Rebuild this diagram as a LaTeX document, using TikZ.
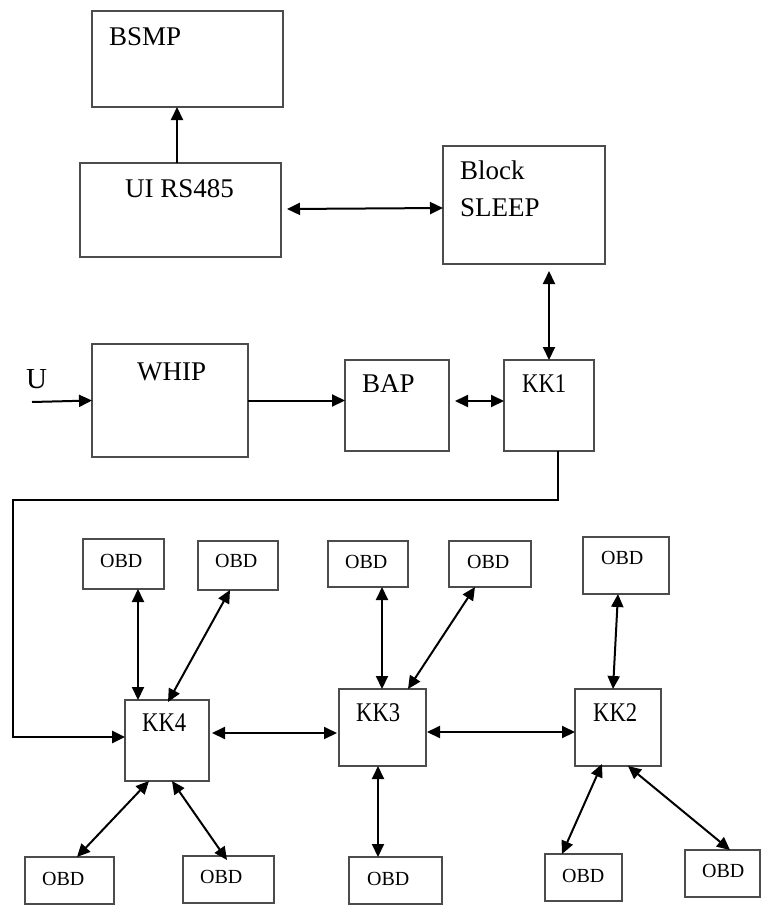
\documentclass[tikz,border=0pt]{standalone}
\usepackage{fontspec}
\setmainfont{Liberation Serif}
\newfontfamily\kkfont[FakeStretch=0.84]{Liberation Serif}
\usetikzlibrary{arrows.meta}
\begin{document}
\begin{tikzpicture}[x=1pt,y=-1pt,
  box/.style={draw=black!70,line width=1.3pt,inner sep=0pt,outer sep=0pt},
  big/.style={font=\fontsize{27}{30}\selectfont,inner sep=0pt,anchor=base west},
  kk/.style={font=\kkfont\fontsize{27}{30}\selectfont,inner sep=0pt,anchor=base west},
  obd/.style={font=\fontsize{20}{22}\selectfont,inner sep=0pt,anchor=base west},
  arr/.style={line width=2pt,-{Triangle[length=13pt,width=12pt]}},
  dbl/.style={line width=2pt,{Triangle[length=13pt,width=12pt]}-{Triangle[length=13pt,width=12pt]}},
  route/.style={line width=2.6pt,line join=miter,-{Triangle[length=13pt,width=12pt]}}]
\useasboundingbox (0,0) rectangle (761,905);
\fill[white] (0,0) rectangle (761,905);
% boxes
\node[box,minimum width=191pt,minimum height=96pt] (bsmp) at (187.5,59) {};
\node[box,minimum width=201pt,minimum height=94pt] (uirs) at (180.5,210) {};
\node[box,minimum width=162pt,minimum height=118pt] (sleep) at (524,205) {};
\node[box,minimum width=156pt,minimum height=113pt] (whip) at (170,400.5) {};
\node[box,minimum width=104pt,minimum height=91pt] (bap) at (397,405.5) {};
\node[box,minimum width=90pt,minimum height=91pt] (kk1) at (549,405.5) {};
\node[box,minimum width=84pt,minimum height=81pt] (kk4) at (167,740.5) {};
\node[box,minimum width=87pt,minimum height=77pt] (kk3) at (382.5,727.5) {};
\node[box,minimum width=86pt,minimum height=77pt] (kk2) at (618,727.5) {};
\node[box,minimum width=81pt,minimum height=50pt] (o1) at (123.5,564) {};
\node[box,minimum width=80pt,minimum height=49pt] (o2) at (238,565.5) {};
\node[box,minimum width=80pt,minimum height=46pt] (o3) at (368,564) {};
\node[box,minimum width=82pt,minimum height=46pt] (o4) at (490,564) {};
\node[box,minimum width=86pt,minimum height=57pt] (o5) at (626,565.5) {};
\node[box,minimum width=89pt,minimum height=47pt] (o6) at (69.5,880.5) {};
\node[box,minimum width=91pt,minimum height=47pt] (o7) at (228.5,879.5) {};
\node[box,minimum width=93pt,minimum height=47pt] (o8) at (395.5,880.5) {};
\node[box,minimum width=77pt,minimum height=47pt] (o9) at (583.5,877.5) {};
\node[box,minimum width=75pt,minimum height=47pt] (o10) at (722.5,873.5) {};
% texts
\node[big] (tbsmp) at (109,45) {BSMP};
\node[big] (tuirs) at (125,197) {UI RS485};
\node[big] (tblock) at (460,179) {Block};
\node[big] (tsleep) at (460,216) {SLEEP};
\node[big] (twhip) at (137,380) {WHIP};
\node[big,font=\fontsize{29}{32}\selectfont] (tu) at (26,388) {U};
\node[big] (tbap) at (362,392) {BAP};
\node[kk] (tkk1) at (522,392) {KK1};
\node[kk] (tkk4) at (142,731) {KK4};
\node[kk] (tkk3) at (356,721) {KK3};
\node[kk] (tkk2) at (593,721) {KK2};
\node[obd] (to1) at (100,567) {OBD};
\node[obd] (to2) at (215,567) {OBD};
\node[obd] (to3) at (345,568) {OBD};
\node[obd] (to4) at (467,568) {OBD};
\node[obd] (to5) at (601,564) {OBD};
\node[obd] (to6) at (42,885) {OBD};
\node[obd] (to7) at (200,883) {OBD};
\node[obd] (to8) at (367,885) {OBD};
\node[obd] (to9) at (562,882) {OBD};
\node[obd] (to10) at (702,877) {OBD};
\coordinate (u0) at (32,402);
% connectors
\draw[arr] ([xshift=-3.5pt]uirs.north) -- ([xshift=-10.5pt]bsmp.south);
\draw[dbl] ([xshift=6pt,yshift=1pt]uirs.east) -- ([yshift=-3pt]sleep.west);
\draw[dbl] ([xshift=25pt,yshift=-7pt]sleep.south) -- (kk1.north);
\draw[arr] (u0) -- (whip.west);
\draw[arr] (whip.east) -- (whip.east -| bap.west);
\draw[dbl] ([xshift=6pt,yshift=4.5pt]bap.east) -- ([yshift=4.5pt]kk1.west);
\draw[route] ([xshift=9pt]kk1.south) |- (13,500) |- ([yshift=3.5pt]kk4.west);
\draw[dbl] ([xshift=3pt,yshift=7.5pt]kk4.east) -- ([xshift=-2pt,yshift=-5.5pt]kk3.west);
\draw[dbl] ([xshift=1pt,yshift=-4.5pt]kk3.east) -- ([yshift=-4.5pt]kk2.west);
\draw[dbl] ([xshift=14.5pt]o1.south) -- ([xshift=-29pt]kk4.north);
\draw[dbl] ([xshift=-8pt]o2.south) -- ([xshift=1pt,yshift=-2pt]kk4.north);
\draw[dbl] ([xshift=14pt]o3.south) -- ([xshift=-0.5pt]kk3.north);
\draw[dbl] ([xshift=-15pt]o4.south) -- ([xshift=25.5pt]kk3.north);
\draw[dbl] ([xshift=-8pt]o5.south) -- ([xshift=-5pt]kk2.north);
\draw[dbl] ([xshift=-18pt]kk4.south) -- ([xshift=7.5pt]o6.north);
\draw[dbl] ([xshift=5pt]kk4.south) -- ([xshift=-1.5pt,yshift=-4pt]o7.north);
\draw[dbl] ([xshift=-4.5pt]kk3.south) -- ([xshift=-17.5pt]o8.north);
\draw[dbl] ([xshift=-16pt,yshift=2pt]kk2.south) -- ([xshift=-21.5pt]o9.north);
\draw[dbl] ([xshift=10pt]kk2.south) -- ([xshift=7.5pt]o10.north);
\end{tikzpicture}
\end{document}
